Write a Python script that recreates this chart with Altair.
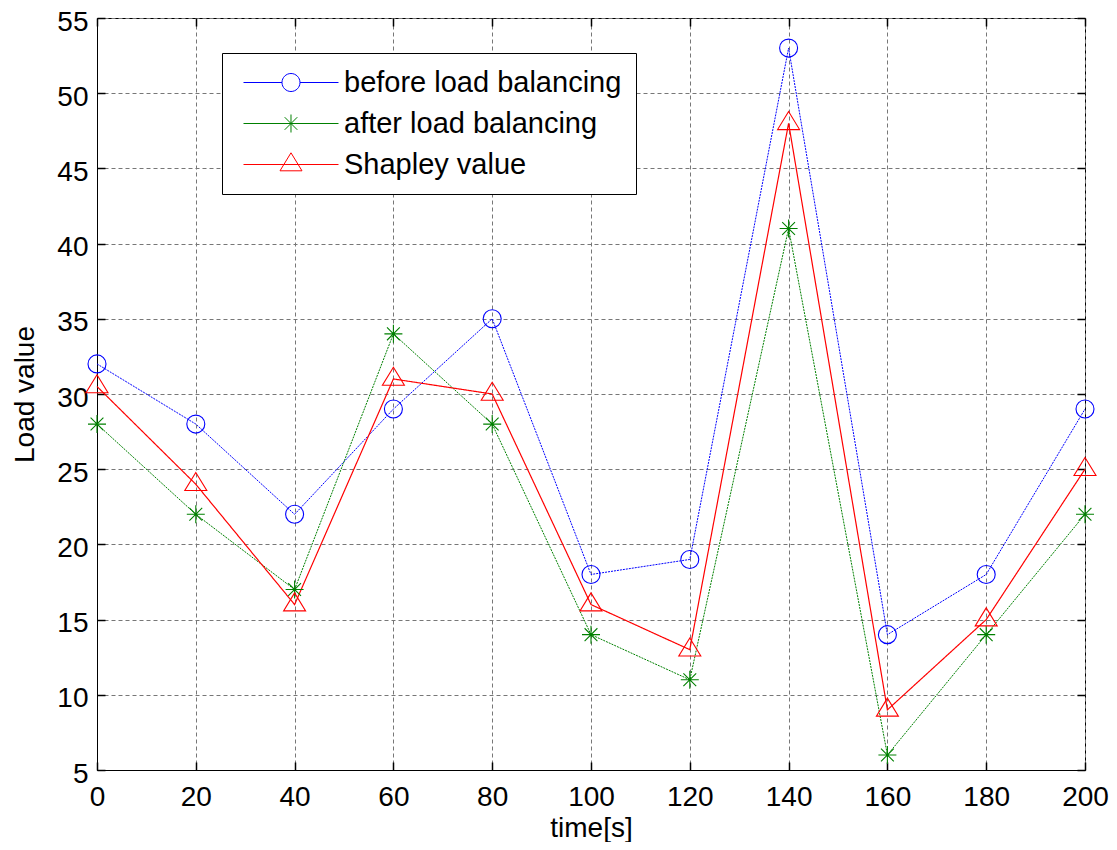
import altair as alt
import pandas as pd

time_s = [0, 20, 40, 60, 80, 100, 120, 140, 160, 180, 200]
before = [32, 28, 22, 29, 35, 18, 19, 53, 14, 18, 29]
after = [28, 22, 17, 34, 28, 14, 11, 41, 6, 14, 22]
shapley = [30.5, 24, 16, 31, 30, 16, 13, 48, 9, 15, 25]

names = ["before load balancing", "after load balancing", "Shapley value"]
colors = ["#0000FF", "#008000", "#FF0000"]
x_ticks = list(range(0, 201, 20))
y_ticks = list(range(5, 56, 5))

rows = []
for n, vals in zip(names, [before, after, shapley]):
    for t, v in zip(time_s, vals):
        rows.append({"time": t, "load": v, "series": n})
df = pd.DataFrame(rows)

W, H = 988, 752
FONT = "Liberation Sans"

dashes = [[2, 1], [2, 1], [1, 0]]
widths = [1, 1, 1.2]
point_shapes = [
    "circle",
    "M-0.9,0L0.9,0M0,-0.9L0,0.9M-0.64,-0.64L0.64,0.64M-0.64,0.64L0.64,-0.64",
    "M0,-1.17L-1.1,0.63L1.1,0.63Z",
]
point_sizes = [324, 400, 400]
# legend symbols: unit = 15 px (symbolSize 900); line spans 95 px, marker at its middle
legend_shapes = [
    "M-0.533,0L2.033,0M3.233,0L5.8,0M2.033,0A0.6,0.6 0 1,0 3.233,0A0.6,0.6 0 1,0 2.033,0",
    "M-0.533,0L5.8,0M2.633,-0.6L2.633,0.6M2.213,-0.42L3.053,0.42M2.213,0.42L3.053,-0.42",
    "M-0.533,0L5.8,0M2.633,-0.78L1.9,0.42L3.366,0.42Z",
]

xscale = alt.Scale(domain=[0, 200], nice=False, zero=False)
yscale = alt.Scale(domain=[5, 55], nice=False, zero=False)

tick_common = dict(labels=False, grid=False, domain=False, ticks=True,
                   tickSize=8, tickColor="black", tickWidth=1.5,
                   title=None)

main_x = alt.Axis(values=x_ticks, grid=True, ticks=False, tickSize=0,
                  labelPadding=13, labelFlush=False, labelOverlap=False,
                  title="time[s]", titleY=66, titleBaseline="alphabetic",
                  domainColor="black")
main_y = alt.Axis(values=y_ticks, grid=True, ticks=False, tickSize=0,
                  labelPadding=9, labelOverlap=False, labelOffset=4,
                  title="Load value", titleX=-64, titleY=H / 2,
                  titleBaseline="alphabetic", titleAlign="center", titleAngle=-90,
                  domainColor="black")
axes_x = [
    main_x,
    alt.Axis(values=x_ticks, orient="top", offset=-H, **tick_common),
    alt.Axis(values=x_ticks, orient="bottom", offset=-H, **tick_common),
]
axes_y = [
    main_y,
    alt.Axis(values=y_ticks, orient="right", offset=-W, **tick_common),
    alt.Axis(values=y_ticks, orient="left", offset=-W, **tick_common),
]

layers = []
for i, n in enumerate(names):
    layers.append(
        alt.Chart(df).transform_filter(alt.datum.series == n)
        .mark_line(color=colors[i], strokeDash=dashes[i], strokeWidth=widths[i])
        .encode(
            x=alt.X("time:Q", scale=xscale, axis=axes_x[i]),
            y=alt.Y("load:Q", scale=yscale, axis=axes_y[i]),
        )
    )
for i, n in enumerate(names):
    layers.append(
        alt.Chart(df).transform_filter(alt.datum.series == n)
        .mark_point(color=colors[i], filled=False, strokeWidth=1.1,
                    opacity=1, shape=point_shapes[i], size=point_sizes[i])
        .encode(
            x=alt.X("time:Q", scale=xscale, axis=None),
            y=alt.Y("load:Q", scale=yscale, axis=None),
        )
    )

leg = alt.Legend(title=None, orient="none", legendX=125, legendY=35,
                 strokeColor="black", fillColor="white", padding=14,
                 labelFont=FONT, labelFontSize=29, labelColor="black",
                 labelOffset=77, symbolSize=900, symbolStrokeWidth=1,
                 rowPadding=10, labelLimit=400)
layers.append(
    alt.Chart(df).transform_filter("false")
    .mark_point(filled=False, opacity=1, strokeWidth=1)
    .encode(
        x=alt.X("time:Q", scale=xscale, axis=None),
        y=alt.Y("load:Q", scale=yscale, axis=None),
        color=alt.Color("series:N", scale=alt.Scale(domain=names, range=colors),
                        legend=leg),
        shape=alt.Shape("series:N", scale=alt.Scale(domain=names, range=legend_shapes),
                        legend=leg),
    )
)

chart = (
    alt.layer(*layers)
    .resolve_axis(x="independent", y="independent")
    .properties(width=W, height=H,
                autosize=alt.AutoSizeParams(type="none"),
                padding={"left": 89, "top": 10, "right": 24, "bottom": 72})
    .configure_view(stroke="black", strokeWidth=1)
    .configure_axis(labelFont=FONT, labelFontSize=28, labelColor="black",
                    titleFont=FONT, titleFontSize=28, titleColor="black",
                    titleFontWeight="normal",
                    gridColor="#777777", gridDash=[4, 3], gridWidth=1,
                    gridOpacity=1, domainWidth=1)
)

chart.save("out.html", embed_options={"renderer": "svg", "actions": False})
